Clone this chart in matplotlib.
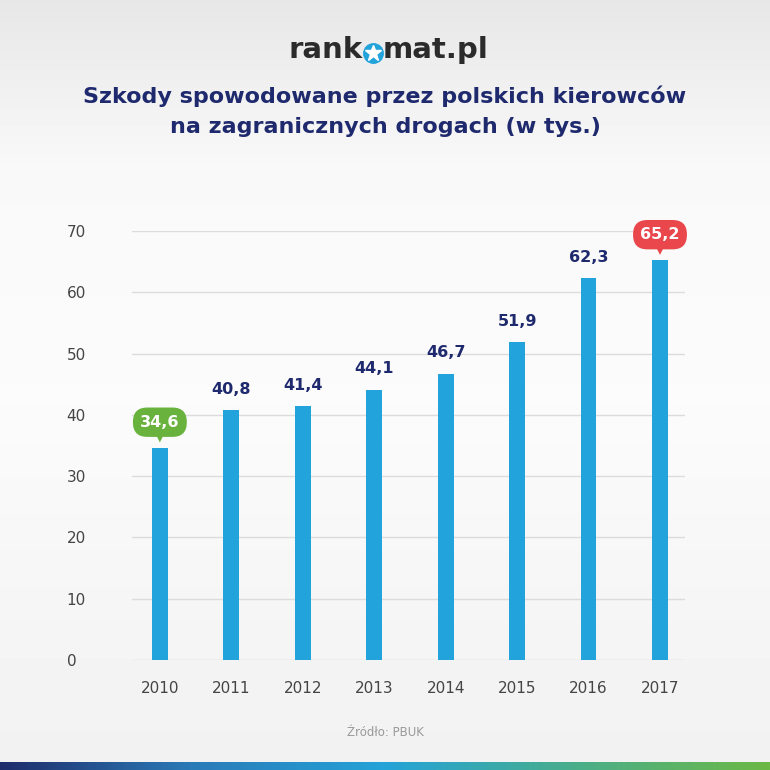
import numpy as np
import matplotlib.pyplot as plt
from matplotlib.colors import LinearSegmentedColormap
from matplotlib.patches import Polygon

years = ['2010', '2011', '2012', '2013', '2014', '2015', '2016', '2017']
values = [34.6, 40.8, 41.4, 44.1, 46.7, 51.9, 62.3, 65.2]
value_labels = ['34,6', '40,8', '41,4', '44,1', '46,7', '51,9', '62,3', '65,2']
y_ticks = [0, 10, 20, 30, 40, 50, 60, 70]

NAVY = '#1f2a6e'
BLUE = '#22a3dc'
GREEN = '#6ab23e'
RED = '#e9474b'

plt.rcParams['font.family'] = ['DejaVu Sans']

fig = plt.figure(figsize=(7.7, 7.7), dpi=100)

# background gradient
bg = fig.add_axes([0, 0, 1, 1], zorder=-10)
grad = np.concatenate([np.linspace(0.905, 0.975, 170), np.linspace(0.975, 0.985, 230),
                       np.linspace(0.985, 0.945, 370)])
bg.imshow(np.tile(grad[:, None], (1, 10)), cmap='gray', vmin=0, vmax=1, aspect='auto',
          extent=[0, 1, 0, 1])
bg.axis('off')

# bottom stripe
stripe = fig.add_axes([0, 0, 1, 8 / 770], zorder=-5)
cmap = LinearSegmentedColormap.from_list('stripe', ['#1f2d6b', '#2a7bb8', '#25a3d8', '#4aae8a', '#6cb845'])
stripe.imshow(np.linspace(0, 1, 256)[None, :], cmap=cmap, aspect='auto', extent=[0, 1, 0, 1])
stripe.axis('off')

ax = fig.add_axes([132 / 770, 1 - 660 / 770, (685 - 132) / 770, (660 - 231) / 770])
ax.set_facecolor('none')
x = np.arange(len(years))
ax.bar(x, values, width=0.22, color=BLUE, zorder=3)
ax.set_xlim(-0.39, 7.35)
ax.set_ylim(0, 70)
ax.set_yticks(y_ticks)
ax.set_xticks(x)
ax.set_xticklabels(years)
ax.grid(axis='y', color='#dcdcdc', linewidth=1)
for s in ax.spines.values():
    s.set_visible(False)
ax.tick_params(axis='both', length=0, labelsize=11, labelcolor='#444444')
ax.tick_params(axis='y', pad=47)
ax.tick_params(axis='x', pad=15)
for lbl in ax.get_yticklabels():
    lbl.set_horizontalalignment('left')

for i, (v, t) in enumerate(zip(values, value_labels)):
    if i == 0 or i == len(values) - 1:
        color = GREEN if i == 0 else RED
        ax.text(i, v + 4.2, t, ha='center', va='center', fontsize=11.5, fontweight='bold',
                color='white', zorder=6,
                bbox=dict(boxstyle='round,pad=0.45,rounding_size=0.9', fc=color, ec='none'))
        # small pointer under the badge
        tri = Polygon([[i - 0.06, v + 2.3], [i + 0.06, v + 2.3], [i, v + 0.9]],
                      closed=True, fc=color, ec='none', zorder=5)
        ax.add_patch(tri)
    else:
        ax.text(i, v + 3.4, t, ha='center', va='center', fontsize=11.5, fontweight='bold',
                color=NAVY, zorder=6)

# title
fig.text(0.5, 1 - 96 / 770, 'Szkody spowodowane przez polskich kierowców', ha='center', va='center',
         fontsize=16, fontweight='bold', color=NAVY)
fig.text(0.5, 1 - 127 / 770, 'na zagranicznych drogach (w tys.)', ha='center', va='center',
         fontsize=16, fontweight='bold', color=NAVY)

# logo
fig.text(363 / 770, 1 - 50 / 770, 'rank', ha='right', va='center', fontsize=21,
         fontweight='heavy', color='#2b2b2b')
fig.text(383 / 770, 1 - 50 / 770, 'mat.pl', ha='left', va='center', fontsize=21,
         fontweight='heavy', color='#2b2b2b')
logo = fig.add_axes([0, 0, 1, 1], zorder=5)
logo.set_xlim(0, 770)
logo.set_ylim(770, 0)
logo.axis('off')
logo.plot([373], [53], marker='o', markersize=14, color=BLUE, linestyle='none')
logo.plot([373], [53], marker='*', markersize=12, color='white', linestyle='none')

fig.text(0.5, 1 - 732 / 770, 'Źródło: PBUK', ha='center', va='center', fontsize=8.5, color='#999999')

fig.savefig('out.png', dpi=100)
